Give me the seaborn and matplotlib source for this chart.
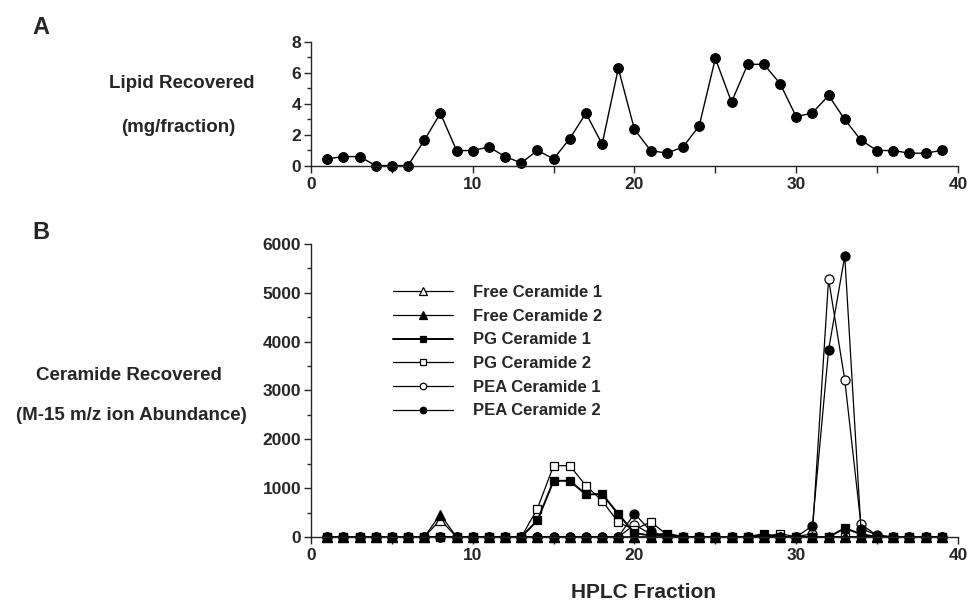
import numpy as np
import pandas as pd
import matplotlib
matplotlib.use("Agg")
import matplotlib.pyplot as plt
from matplotlib.ticker import MultipleLocator
import seaborn as sns

# fractions 1..39
fractions = list(range(1, 40))

# panel A: lipid recovered (mg/fraction)
lipid = [0.43, 0.58, 0.58, 0.0, 0.0, 0.0, 1.62, 3.38, 0.97, 0.97,
         1.2, 0.58, 0.17, 0.98, 0.43, 1.74, 3.38, 1.38, 6.28, 2.33,
         0.97, 0.8, 1.2, 2.56, 6.92, 4.1, 6.54, 6.54, 5.3, 3.15,
         3.4, 4.53, 2.98, 1.64, 0.97, 0.97, 0.8, 0.8, 0.98]

# panel B: ceramide ion abundance
free_cer1 = [0, 0, 0, 0, 0, 0, 0, 350, 0, 0,
             0, 0, 0, 0, 0, 0, 0, 0, 0, 0,
             0, 0, 0, 0, 0, 0, 0, 0, 0, 0,
             0, 0, 0, 0, 0, 0, 0, 0, 0]
free_cer2 = [0, 0, 0, 0, 0, 0, 0, 460, 0, 0,
             0, 0, 0, 0, 0, 0, 0, 0, 0, 0,
             0, 0, 0, 0, 0, 0, 0, 0, 0, 0,
             0, 0, 0, 0, 0, 0, 0, 0, 0]
pg_cer1 = [0, 0, 0, 0, 0, 0, 0, 0, 0, 0,
           0, 0, 0, 340, 1150, 1150, 870, 880, 470, 80,
           30, 70, 0, 0, 0, 0, 0, 60, 0, 0,
           0, 0, 180, 60, 0, 0, 0, 0, 0]
pg_cer2 = [0, 0, 0, 0, 0, 0, 0, 0, 0, 0,
           0, 0, 0, 580, 1460, 1460, 1050, 740, 300, 150,
           310, 50, 0, 0, 0, 0, 0, 0, 70, 0,
           0, 0, 0, 0, 0, 0, 0, 0, 0]
pea_cer1 = [0, 0, 0, 0, 0, 0, 0, 0, 0, 0,
            0, 0, 0, 0, 0, 0, 0, 0, 0, 250,
            60, 0, 0, 0, 0, 0, 0, 0, 0, 0,
            70, 5280, 3220, 260, 30, 0, 0, 0, 0]
pea_cer2 = [0, 0, 0, 0, 0, 0, 0, 0, 0, 0,
            0, 0, 0, 0, 0, 0, 0, 0, 0, 480,
            120, 0, 0, 0, 0, 0, 0, 0, 0, 0,
            230, 3830, 5750, 170, 40, 0, 0, 0, 0]

series_names = ["Free Ceramide 1", "Free Ceramide 2", "PG Ceramide 1",
                "PG Ceramide 2", "PEA Ceramide 1", "PEA Ceramide 2"]
series_vals = [free_cer1, free_cer2, pg_cer1, pg_cer2, pea_cer1, pea_cer2]
series_marker = ["^", "^", "s", "s", "o", "o"]
series_msize = [7.5, 7.5, 5.5, 5.5, 6.5, 6.5]
series_open = [True, False, False, True, True, False]
# draw order so the filled triangles sit on top at the baseline
draw_order = [4, 3, 2, 0, 5, 1]

sns.set_style("ticks")
plt.rcParams["font.family"] = ["Liberation Sans", "DejaVu Sans"]
plt.rcParams["font.weight"] = "bold"

fig = plt.figure(figsize=(9.7, 6.02), dpi=100)
axA = fig.add_axes([0.3206, 0.725, 0.667, 0.2057])
axB = fig.add_axes([0.3206, 0.108, 0.667, 0.487])

# panel A
sns.lineplot(x=fractions, y=lipid, ax=axA, color="black", linewidth=1.0,
             marker="o", markersize=7, markerfacecolor="black",
             markeredgecolor="black", markeredgewidth=0.8, clip_on=False)
axA.set_xlim(0, 40)
axA.set_ylim(0, 8)
axA.yaxis.set_major_locator(MultipleLocator(2))
axA.yaxis.set_minor_locator(MultipleLocator(1))

# panel B
df = pd.DataFrame({"fraction": fractions * len(series_names),
                   "value": sum(series_vals, []),
                   "series": np.repeat(series_names, len(fractions))})
handles = {}
for i in draw_order:
    name = series_names[i]
    sub = df[df["series"] == name]
    sns.lineplot(data=sub, x="fraction", y="value", ax=axB, color="black",
                 linewidth=1.4 if i == 2 else 0.9,
                 marker=series_marker[i], markersize=series_msize[i],
                 markerfacecolor="white" if series_open[i] else "black",
                 markeredgecolor="black", markeredgewidth=0.9,
                 clip_on=False, label=name)
    handles[name] = axB.lines[-1]
axB.set_xlim(0, 40)
axB.set_ylim(0, 6000)
axB.yaxis.set_major_locator(MultipleLocator(1000))
axB.yaxis.set_minor_locator(MultipleLocator(500))

for ax in (axA, axB):
    sns.despine(ax=ax)
    ax.xaxis.set_major_locator(MultipleLocator(10))
    ax.xaxis.set_minor_locator(MultipleLocator(5))
    ax.tick_params(axis="x", which="both", direction="out", length=5,
                   width=1, labelsize=12.5, pad=3)
    ax.tick_params(axis="y", which="major", direction="out", length=5,
                   width=1, labelsize=12.5, pad=2)
    ax.tick_params(axis="y", which="minor", direction="out", length=3, width=1)
    for s in ("left", "bottom"):
        ax.spines[s].set_linewidth(1.0)
    ax.set_xlabel("")
    ax.set_ylabel("")
    for lab in ax.get_xticklabels() + ax.get_yticklabels():
        lab.set_fontweight("bold")

axB.legend([handles[n] for n in series_names], series_names,
           loc="upper left", bbox_to_anchor=(393 / 970, 1 - 285 / 602),
           bbox_transform=fig.transFigure, frameon=False, borderpad=0,
           borderaxespad=0, handlelength=3.6, handletextpad=1.2,
           labelspacing=0.52, markerscale=0.72,
           prop={"size": 12, "weight": "bold"})

# panel texts
fig.text(32 / 970, 1 - 27 / 602, "A", fontsize=17, fontweight="bold",
         ha="left", va="center")
fig.text(32 / 970, 1 - 233 / 602, "B", fontsize=17, fontweight="bold",
         ha="left", va="center")
fig.text(182 / 970, 1 - 84 / 602, "Lipid Recovered", fontsize=13.5,
         fontweight="bold", ha="center", va="center")
fig.text(178 / 970, 1 - 127 / 602, "(mg/fraction)", fontsize=13.5,
         fontweight="bold", ha="center", va="center")
fig.text(129 / 970, 1 - 375 / 602, "Ceramide Recovered", fontsize=13.5,
         fontweight="bold", ha="center", va="center")
fig.text(131 / 970, 1 - 416 / 602, "(M-15 m/z ion Abundance)", fontsize=13.5,
         fontweight="bold", ha="center", va="center")
fig.text(644 / 970, 1 - 592 / 602, "HPLC Fraction", fontsize=15,
         fontweight="bold", ha="center", va="center")

fig.savefig("out.png", dpi=100)
